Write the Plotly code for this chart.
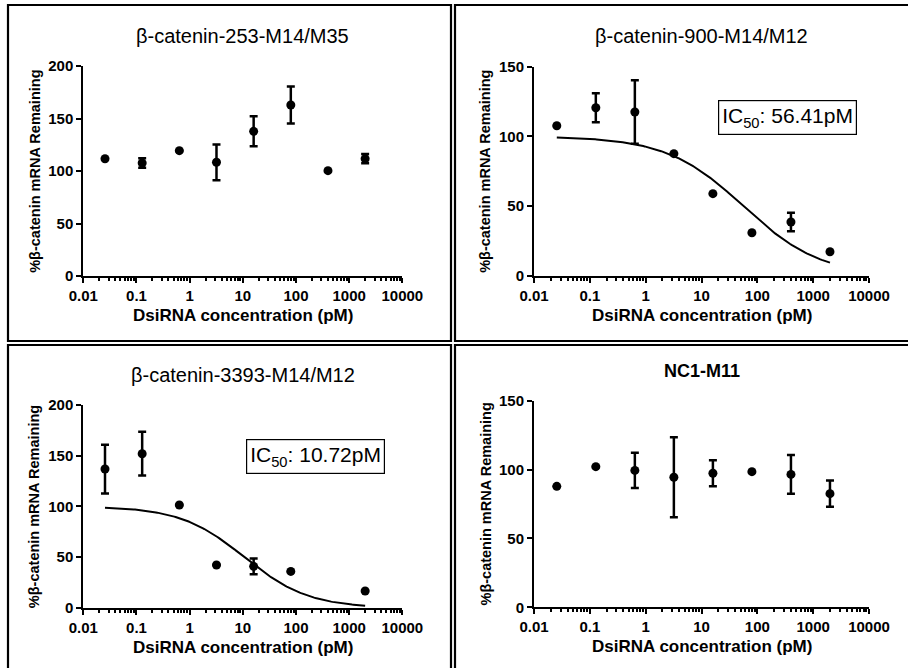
import numpy as np
import plotly.graph_objects as go

W, H = 908, 668

# DsiRNA concentrations (pM), 5-fold dilution series
conc = [0.0256, 0.128, 0.64, 3.2, 16, 80, 400, 2000]

# % beta-catenin mRNA remaining (mean) and SEM for each construct
titles = ["β-catenin-253-M14/M35", "β-catenin-900-M14/M12",
          "β-catenin-3393-M14/M12", "NC1-M11"]

y253 = [111.7, 107.6, 119.4, 108.3, 137.8, 162.9, 100.3, 111.7]
e253 = [0, 4.6, 0, 17.0, 14.3, 17.6, 0, 4.4]

y900 = [107.7, 120.6, 117.5, 87.7, 59.0, 31.0, 38.7, 17.4]
e900 = [0, 10.4, 22.8, 0, 0, 0, 6.6, 0]

conc3393 = [0.0256, 0.128, 0.64, 3.2, 16, 80, 2000]
y3393 = [136.7, 151.8, 101.3, 42.3, 41.0, 36.0, 16.7]
e3393 = [24.0, 21.5, 0, 0, 7.7, 0, 0]

ync = [87.8, 102.1, 99.4, 94.4, 97.3, 98.5, 96.5, 82.5]
enc = [0, 0, 12.8, 29.0, 9.4, 0, 14.0, 9.5]

# Dose-response fits (top 100, bottom 0)
ic50_900, hill_900 = 56.41, 0.63
ic50_3393, hill_3393 = 10.72, 0.72

x_ticks = [0.01, 0.1, 1, 10, 100, 1000, 10000]
x_ticktext = ["0.01", "0.1", "1", "10", "100", "1000", "10000"]

ymax = [200, 150, 200, 150]

# panel geometry in pixels: x-axis span, y-axis span (top, bottom)
axes_px = [
    (83.3, 402.3, 66.0, 276.0),
    (534.0, 869.0, 66.7, 276.0),
    (83.3, 402.3, 404.7, 608.0),
    (534.0, 869.0, 400.7, 607.3),
]
frames_px = [
    (8, 451, 5, 341),
    (455, 915, 5, 341),
    (8, 451, 345, 675),
    (455, 915, 345, 675),
]

FONT = "Liberation Sans"


def fx(px):
    return px / W


def fy(py):
    return 1 - py / H


def logistic(x, ic50, hill):
    return 100.0 / (1.0 + (x / ic50) ** hill)


fig = go.Figure()

series = [(conc, y253, e253), (conc, y900, e900),
          (conc3393, y3393, e3393), (conc, ync, enc)]

for i, (xs, ys, es) in enumerate(series):
    sfx = "" if i == 0 else str(i + 1)
    fig.add_trace(go.Scatter(
        x=xs, y=ys, mode="markers",
        marker=dict(color="black", size=9),
        error_y=dict(type="data", array=es, visible=True, color="black",
                     thickness=2.5, width=4),
        xaxis="x" + sfx, yaxis="y" + sfx, showlegend=False,
        cliponaxis=False,
    ))

fits = [(1, ic50_900, hill_900, conc), (2, ic50_3393, hill_3393, conc3393)]
for idx, ic50, hill, xs in fits:
    xc = np.logspace(np.log10(xs[0]), np.log10(xs[-1]), 200)
    sfx = str(idx + 1)
    fig.add_trace(go.Scatter(
        x=xc, y=logistic(xc, ic50, hill), mode="lines",
        line=dict(color="black", width=2),
        xaxis="x" + sfx, yaxis="y" + sfx, showlegend=False,
    ))

minor_vals = [k * 10.0 ** e for e in range(-2, 4) for k in range(2, 10)]

layout = dict(
    width=W, height=H,
    margin=dict(l=0, r=0, t=0, b=0, pad=0, autoexpand=False),
    paper_bgcolor="white", plot_bgcolor="white",
    font=dict(family=FONT, color="black"),
    showlegend=False,
)

annotations = []
shapes = []

for i in range(4):
    sfx = "" if i == 0 else str(i + 1)
    x0, x1, yt, yb = axes_px[i]
    layout["xaxis" + sfx] = dict(
        type="log", range=[-2, 4], domain=[fx(x0), fx(x1)],
        anchor="y" + sfx, automargin=False,
        tickmode="array", tickvals=x_ticks, ticktext=x_ticktext,
        ticks="outside", ticklen=5, tickwidth=2, tickcolor="black",
        minor=dict(tickmode="array", tickvals=minor_vals, ticks="outside",
                   ticklen=3, tickwidth=1.5, tickcolor="black"),
        showline=True, linecolor="black", linewidth=2,
        showgrid=False, zeroline=False,
        tickfont=dict(family=FONT, size=15, color="black", weight="bold"),
    )
    layout["yaxis" + sfx] = dict(
        range=[0, ymax[i]], domain=[fy(yb), fy(yt)], anchor="x" + sfx,
        automargin=False,
        tickmode="linear", tick0=0, dtick=50,
        ticks="outside", ticklen=5, tickwidth=2, tickcolor="black",
        showline=True, linecolor="black", linewidth=2,
        showgrid=False, zeroline=False,
        tickfont=dict(family=FONT, size=15, color="black", weight="bold"),
    )
    cx = (x0 + x1) / 2
    # panel title
    bold_title = titles[i] == "NC1-M11"
    annotations.append(dict(
        text=titles[i], xref="paper", yref="paper",
        x=fx(cx), y=fy(36 if i < 2 else (371 if bold_title else 374.7)),
        xanchor="center", yanchor="middle", showarrow=False,
        font=dict(family=FONT, size=18 if bold_title else 20, color="black",
                  weight="bold" if bold_title else "normal"),
    ))
    # x-axis title
    annotations.append(dict(
        text="DsiRNA concentration (pM)", xref="paper", yref="paper",
        x=fx(cx), y=fy(yb + 39.5), xanchor="center", yanchor="middle",
        showarrow=False,
        font=dict(family=FONT, size=17, color="black", weight="bold"),
    ))
    # y-axis title
    annotations.append(dict(
        text="%β-catenin mRNA Remaining", xref="paper", yref="paper",
        x=fx(x0 - 48.5), y=fy((yt + yb) / 2), xanchor="center",
        yanchor="middle", textangle=-90, showarrow=False,
        font=dict(family=FONT, size=14.5, color="black", weight="bold"),
    ))
    fx0, fx1, fy0, fy1 = frames_px[i]
    shapes.append(dict(
        type="rect", xref="paper", yref="paper",
        x0=fx(fx0), x1=fx(fx1), y0=fy(fy0), y1=fy(fy1),
        line=dict(color="black", width=2.2), fillcolor="rgba(0,0,0,0)",
        layer="below",
    ))

# IC50 boxes
for ic50, cxp, cyp in [(ic50_900, 787.5, 117.5), (ic50_3393, 315.5, 456.5)]:
    annotations.append(dict(
        text="IC<sub>50</sub>: %.2fpM" % ic50, xref="paper", yref="paper",
        x=fx(cxp), y=fy(cyp), xanchor="center", yanchor="middle",
        showarrow=False, bordercolor="black", borderwidth=1.2, borderpad=3,
        bgcolor="white",
        font=dict(family=FONT, size=21, color="black"),
    ))

layout["annotations"] = annotations
layout["shapes"] = shapes
fig.update_layout(**layout)

fig.write_html("out.html")
